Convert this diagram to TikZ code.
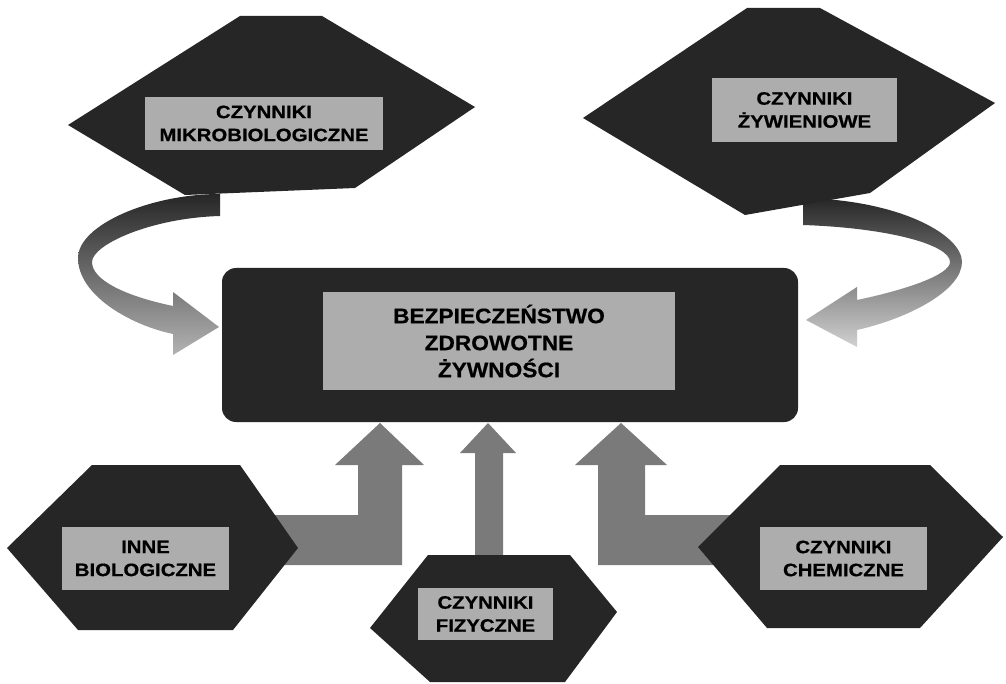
\documentclass[tikz,border=0pt]{standalone}
\usepackage{fontspec}
\setmainfont{Liberation Sans}
\newfontfamily\labfont[FakeStretch=1.13,FakeBold=0.6]{Liberation Sans Bold}
\newfontfamily\ctrfont[FakeStretch=1.08,FakeBold=0.6]{Liberation Sans Bold}
\begin{document}
\begin{tikzpicture}[x=1pt,y=-1pt,
  hexfill/.style={fill=black!85},
  lbox/.style={fill=black!32, inner sep=0pt, align=center, text=black},
  lab/.style={lbox, font=\labfont\fontsize{18}{23}\selectfont},
  ctrlab/.style={lbox, font=\ctrfont\fontsize{21}{27}\selectfont},
  blockarrow/.style={fill=black!52},
  curvearrow/.style={top color=black!85, bottom color=black!30}
]
\useasboundingbox (0,0) rectangle (1006,684);
\fill[white] (0,0) rectangle (1006,684);

% ---- curved arrows (behind everything)
\shade[curvearrow] (220,194) .. controls (150,194) and (78,225) .. (78,258)
  .. controls (78,295) and (130,325) .. (173,334) -- (173,355) -- (219,327)
  -- (173,292) -- (173,306) .. controls (125,296) and (92,280) .. (92,262)
  .. controls (92,245) and (150,218) .. (220,216) -- cycle;
\shade[curvearrow, bottom color=black!18] (803,198) .. controls (900,200) and (962,235) .. (962,262)
  .. controls (962,290) and (910,318) .. (857,330) -- (857,347) -- (806,320)
  -- (857,287) -- (857,300) .. controls (905,290) and (950,275) .. (950,262)
  .. controls (950,245) and (890,228) .. (803,225) -- cycle;

% ---- block arrows from the bottom
\fill[blockarrow] (270,515) -- (358,515) -- (358,465) -- (335,465) -- (380,423)
  -- (424,465) -- (402,465) -- (402,565) -- (270,565) -- cycle;
\fill[blockarrow] (475,562) -- (475,453) -- (460,453) -- (488,423) -- (516,453)
  -- (503,453) -- (503,562) -- cycle;
\fill[blockarrow] (740,515) -- (645,515) -- (645,465) -- (667,465) -- (621,423)
  -- (575,465) -- (598,465) -- (598,565) -- (740,565) -- cycle;

% ---- hexagons
\fill[hexfill] (240,16) -- (322,16) -- (475,107) -- (355,188) -- (185,195) -- (68,125) -- cycle;
\fill[hexfill] (747,8) -- (820,8) -- (995,103) -- (870,193) -- (745,215) -- (583,118) -- cycle;
\fill[hexfill] (92,465) -- (240,465) -- (298,548) -- (233,630) -- (78,630) -- (7,548) -- cycle;
\fill[hexfill] (428,555) -- (570,555) -- (617,612) -- (565,682) -- (430,682) -- (370,628) -- cycle;
\fill[hexfill] (780,465) -- (930,465) -- (1003,537) -- (920,628) -- (767,628) -- (698,547) -- cycle;

% ---- central box
\fill[black!85, rounded corners=14pt] (222,268) rectangle (798,422);

% ---- labels
\node[ctrlab, minimum width=352pt, minimum height=98pt] (bez) at (499,341)
  {BEZPIECZEŃSTWO\\ZDROWOTNE\\ŻYWNOŚCI};
\node[lab, minimum width=238pt, minimum height=53pt] (mikro) at (264,123.5)
  {CZYNNIKI\\MIKROBIOLOGICZNE};
\node[lab, minimum width=185pt, minimum height=64pt] (zyw) at (804.5,110)
  {CZYNNIKI\\ŻYWIENIOWE};
\node[lab, minimum width=167pt, minimum height=63pt] (inne) at (145.5,558.5)
  {INNE\\BIOLOGICZNE};
\node[lab, minimum width=135pt, minimum height=52pt] (fiz) at (485.5,614)
  {CZYNNIKI\\FIZYCZNE};
\node[lab, minimum width=167pt, minimum height=63pt] (chem) at (843.5,558.5)
  {CZYNNIKI\\CHEMICZNE};
\end{tikzpicture}
\end{document}
